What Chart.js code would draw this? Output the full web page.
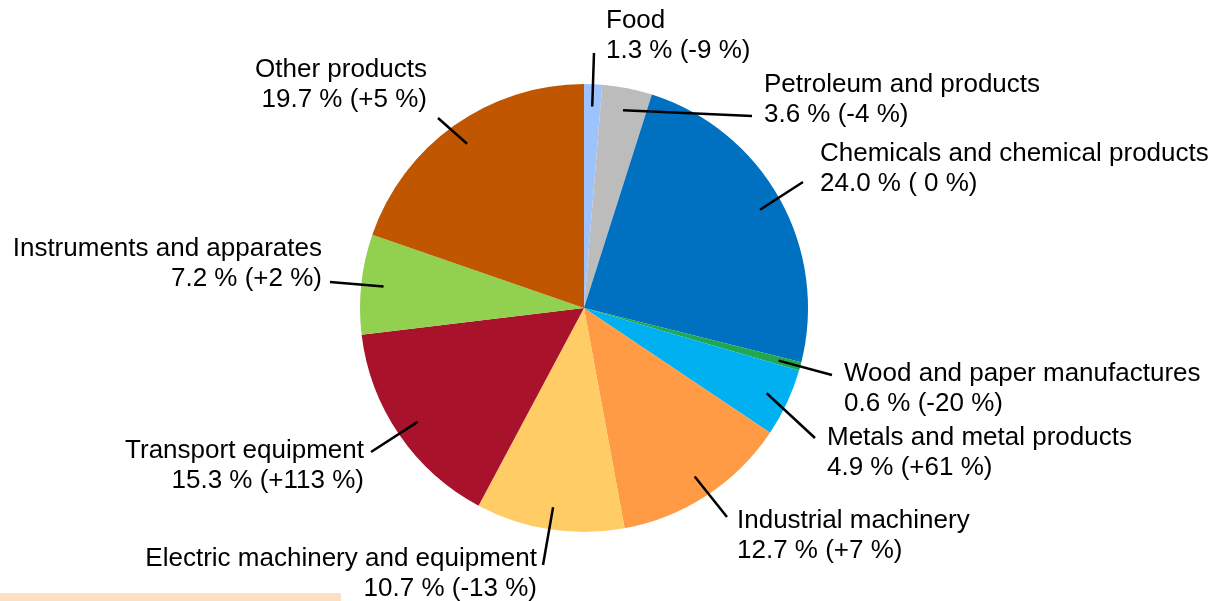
<!DOCTYPE html>
<html>
<head>
<meta charset="utf-8">
<script src="https://cdn.jsdelivr.net/npm/chart.js"></script>
<style>
  html, body { margin: 0; padding: 0; background: #fff; }
  #wrap { position: relative; width: 1217px; height: 601px; overflow: hidden; }
  #strip { position: absolute; left: 0; top: 593px; width: 341px; height: 8px; background: #fddfc4; }
</style>
</head>
<body>
<div id="wrap">
  <canvas id="grafico" width="1217" height="601"></canvas>
  <div id="strip"></div>
</div>
<script>
// datos
const categorias = ['Food', 'Petroleum and products', 'Chemicals and chemical products',
  'Wood and paper manufactures', 'Metals and metal products', 'Industrial machinery',
  'Electric machinery and equipment', 'Transport equipment', 'Instruments and apparates', 'Other products'];
const participacion = [1.3, 3.6, 24.0, 0.6, 4.9, 12.7, 10.7, 15.3, 7.2, 19.7];
const variacion = ['-9 %', '-4 %', ' 0 %', '-20 %', '+61 %', '+7 %', '-13 %', '+113 %', '+2 %', '+5 %'];

const colores = ['#9dc3ff', '#bcbcbc', '#0070c0', '#1fa84f', '#00b0f0', '#ff9b45',
  '#ffcc66', '#a8122a', '#92d050', '#c05600'];

// donde va cada etiqueta (fin de la linea y texto)
const etiquetas = [
  { fin: [594, 53],  x: 606, y: 21,  align: 'left' },
  { fin: [752, 116], x: 764, y: 85,  align: 'left' },
  { fin: [803, 182], x: 820, y: 154, align: 'left' },
  { fin: [832, 375], x: 844, y: 374, align: 'left' },
  { fin: [815, 438], x: 827, y: 438, align: 'left' },
  { fin: [727, 517], x: 737, y: 521, align: 'left' },
  { fin: [543, 565], x: 537, y: 559, align: 'right' },
  { fin: [371, 452], x: 364, y: 451, align: 'right' },
  { fin: [330, 282], x: 322, y: 249, align: 'right' },
  { fin: [438, 118], x: 427, y: 70,  align: 'right' }
];

const pluginEtiquetas = {
  id: 'etiquetas',
  afterDraw(chart) {
    const ctx = chart.ctx;
    const arcos = chart.getDatasetMeta(0).data;
    ctx.save();
    ctx.strokeStyle = '#000';
    ctx.fillStyle = '#000';
    ctx.lineWidth = 2.5;
    ctx.font = '26px "Liberation Sans", Arial, sans-serif';
    ctx.textBaseline = 'middle';
    arcos.forEach((arc, i) => {
      const p = arc.getProps(['x', 'y', 'startAngle', 'endAngle', 'outerRadius'], true);
      const medio = (p.startAngle + p.endAngle) / 2;
      const r = p.outerRadius * 0.9;
      const e = etiquetas[i];
      ctx.beginPath();
      ctx.moveTo(p.x + Math.cos(medio) * r, p.y + Math.sin(medio) * r);
      ctx.lineTo(e.fin[0], e.fin[1]);
      ctx.stroke();
      ctx.textAlign = e.align;
      ctx.fillText(categorias[i], e.x, e.y);
      ctx.fillText(participacion[i].toFixed(1) + ' % (' + variacion[i] + ')', e.x, e.y + 30);
    });
    ctx.restore();
  }
};

new Chart(document.getElementById('grafico'), {
  type: 'pie',
  data: {
    labels: categorias,
    datasets: [{
      data: participacion,
      backgroundColor: colores,
      borderWidth: 0
    }]
  },
  options: {
    responsive: false,
    animation: false,
    layout: { padding: { left: 360, right: 409, top: 84, bottom: 69 } },
    plugins: {
      legend: { display: false },
      tooltip: { enabled: false }
    }
  },
  plugins: [pluginEtiquetas]
});
</script>
</body>
</html>
